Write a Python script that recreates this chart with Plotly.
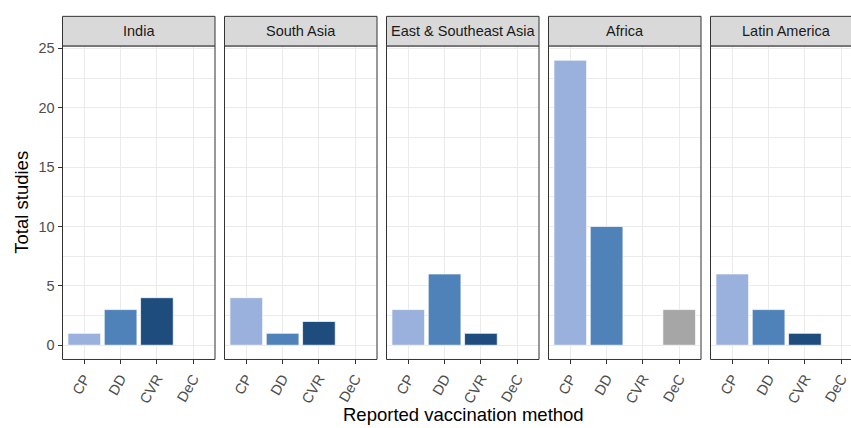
import plotly.graph_objects as go

# Study counts by region and reported vaccination method
regions = ["India", "South Asia", "East & Southeast Asia", "Africa", "Latin America"]
methods = ["CP", "DD", "CVR", "DeC"]
india = [1, 3, 4, 0]
south_asia = [4, 1, 2, 0]
east_se_asia = [3, 6, 1, 0]
africa = [24, 10, 0, 3]
latin_america = [6, 3, 1, 0]
method_colors = ["#9AB1DD", "#4F82B9", "#1E4D7D", "#A6A6A6"]

counts = [india, south_asia, east_se_asia, africa, latin_america]

W, H = 851, 428
FONT = "Liberation Sans, Arial, sans-serif"
TICK_SIZE = 14.5
STRIP_SIZE = 14.5
TITLE_SIZE = 18.5

# panel geometry in pixels (left, right); the last panel runs past the page edge
panel_left = [62.5, 224.5, 386.5, 548.5, 710.5]
panel_w = 152.5
top_px, bottom_px = 40.5, 358.5
strip_top = 10.5
unit_px = panel_w / 4.2

def px_x(p):
    return p / W

def px_y(p):
    return (H - p) / H

fig = go.Figure()
layout = dict(
    width=W, height=H,
    margin=dict(l=0, r=0, t=0, b=0),
    paper_bgcolor="white", plot_bgcolor="white",
    showlegend=False, bargap=0.1,
    font=dict(family=FONT),
)
shapes, annotations = [], []

for i, (region, vals) in enumerate(zip(regions, counts)):
    n = "" if i == 0 else str(i + 1)
    left = panel_left[i]
    right = min(left + panel_w, W)
    visible_units = (right - left) / unit_px
    xs = [m for m, v in zip(methods, vals) if v > 0]
    ys = [v for v in vals if v > 0]
    cs = [c for c, v in zip(method_colors, vals) if v > 0]
    fig.add_trace(go.Bar(
        x=xs, y=ys, xaxis="x" + n, yaxis="y" + n,
        marker=dict(color=cs, line=dict(color="rgba(255,255,255,0.7)", width=1)),
        width=0.9, hoverinfo="x+y",
    ))
    layout["xaxis" + n] = dict(
        domain=[px_x(left), px_x(right)], anchor="y" + n,
        type="category", categoryorder="array", categoryarray=methods,
        range=[-0.6, -0.6 + visible_units],
        showgrid=True, gridcolor="#EBEBEB", gridwidth=1,
        ticks="outside", ticklen=4, tickcolor="#333333", tickwidth=1,
        tickangle=-60, tickfont=dict(size=TICK_SIZE, color="#4D4D4D", family=FONT),
        showline=False, zeroline=False, fixedrange=True,
    )
    layout["yaxis" + n] = dict(
        domain=[px_y(bottom_px), px_y(top_px)], anchor="x" + n,
        range=[-1.2, 25.2], tickvals=[0, 5, 10, 15, 20, 25],
        showgrid=True, gridcolor="#EBEBEB", gridwidth=1,
        minor=dict(dtick=2.5, tick0=0, showgrid=True, gridcolor="#EBEBEB", gridwidth=0.5),
        showticklabels=(i == 0), ticks="outside" if i == 0 else "",
        ticklen=4, tickcolor="#333333", tickwidth=1,
        tickfont=dict(size=TICK_SIZE, color="#4D4D4D", family=FONT),
        showline=False, zeroline=False, fixedrange=True,
    )
    # panel border
    shapes.append(dict(
        type="rect", xref="paper", yref="paper", layer="above",
        x0=px_x(left), x1=px_x(left + panel_w), y0=px_y(bottom_px), y1=px_y(top_px),
        line=dict(color="#333333", width=1), fillcolor="rgba(0,0,0,0)",
    ))
    # facet strip
    shapes.append(dict(
        type="rect", xref="paper", yref="paper", layer="above",
        x0=px_x(left), x1=px_x(left + panel_w), y0=px_y(top_px), y1=px_y(strip_top),
        line=dict(color="#333333", width=1), fillcolor="#D9D9D9",
    ))
    annotations.append(dict(
        text=region, xref="paper", yref="paper", showarrow=False,
        x=px_x(left + panel_w / 2), y=px_y((strip_top + top_px) / 2),
        xanchor="center", yanchor="middle",
        font=dict(size=STRIP_SIZE, color="#1A1A1A", family=FONT),
    ))

annotations.append(dict(
    text="Total studies", xref="paper", yref="paper", showarrow=False,
    x=px_x(22), y=px_y((top_px + bottom_px) / 2), textangle=-90,
    xanchor="center", yanchor="middle",
    font=dict(size=TITLE_SIZE, color="black", family=FONT),
))
annotations.append(dict(
    text="Reported vaccination method", xref="paper", yref="paper", showarrow=False,
    x=px_x(463), y=px_y(414), xanchor="center", yanchor="middle",
    font=dict(size=TITLE_SIZE, color="black", family=FONT),
))

layout["shapes"] = shapes
layout["annotations"] = annotations
fig.update_layout(**layout)
fig.write_html("out.html")
